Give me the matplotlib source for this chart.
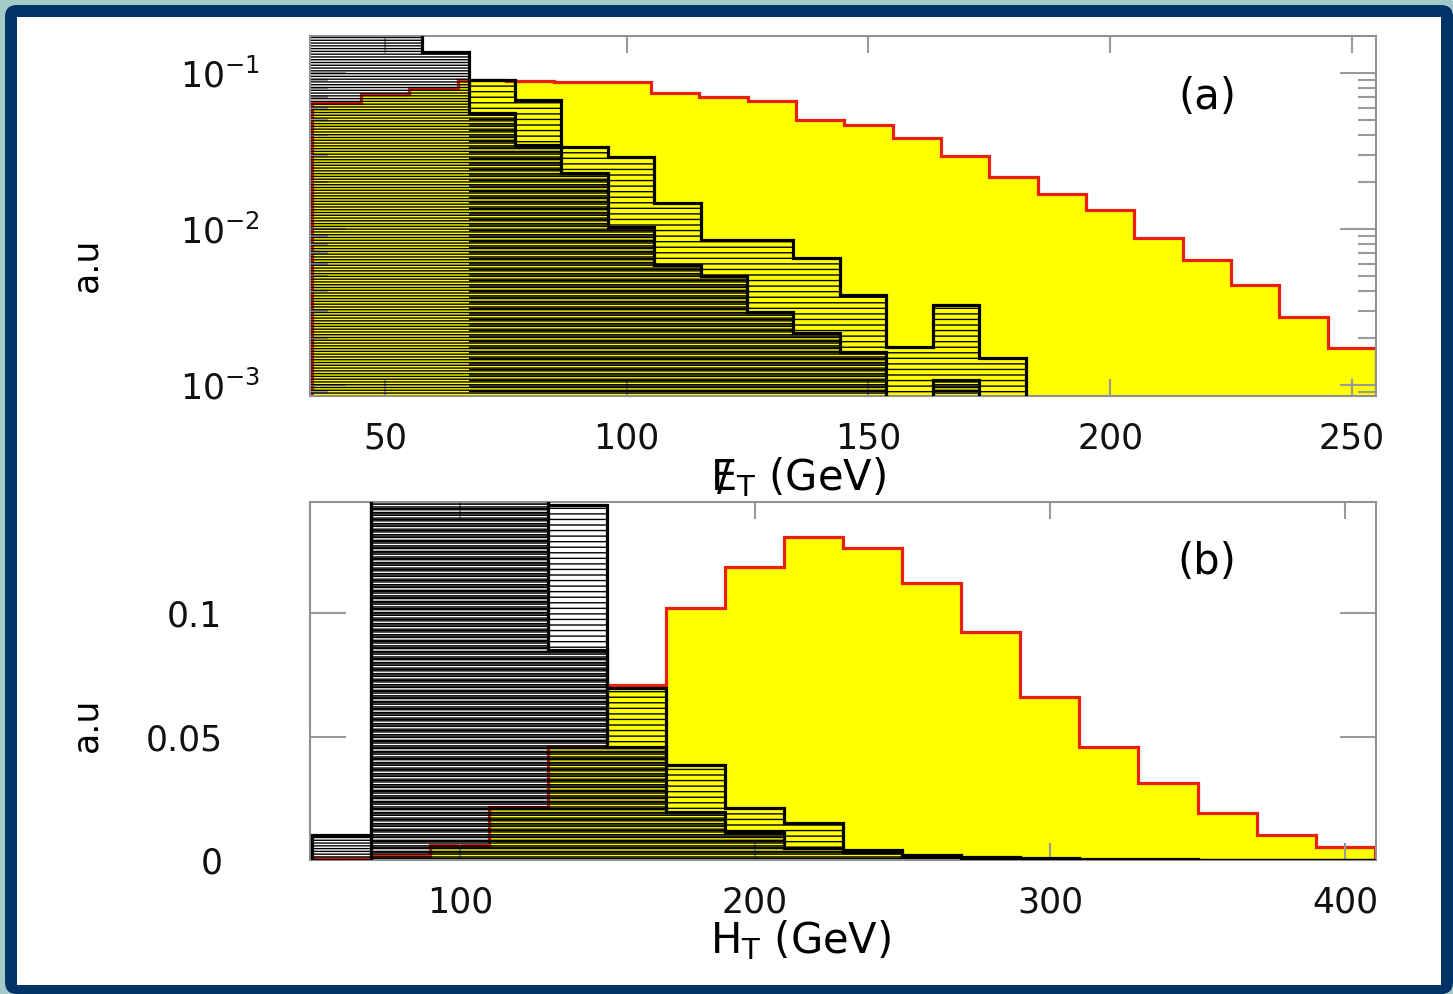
import numpy as np
import matplotlib
matplotlib.use('Agg')
import matplotlib.pyplot as plt
from matplotlib.patches import FancyBboxPatch, Rectangle

# panel (a): energia transversa perdida
met_bordes = [35, 45, 55, 65, 75, 85, 95, 105, 115, 125, 135, 145, 155, 165, 175,
              185, 195, 205, 215, 225, 235, 245, 255]
met_senal = [0.0642, 0.0733, 0.0801, 0.0902, 0.0888, 0.0876, 0.0876, 0.0745, 0.0702,
             0.0662, 0.0500, 0.0464, 0.0383, 0.0294, 0.0215, 0.0167, 0.0132, 0.00875,
             0.00632, 0.00438, 0.00273, 0.00173]
met_bordes_fondo = [28.9, 38.5, 48.1, 57.7, 67.3, 76.9, 86.5, 96.1, 105.7, 115.3, 124.9,
                    134.5, 144.1, 153.7, 163.3, 172.9, 182.5, 192.1]
met_fondo1 = [0.40, 0.33, 0.25, 0.136, 0.0555, 0.0346, 0.0229, 0.0103, 0.00588, 0.0050,
              0.00294, 0.00215, 0.00163, 0.0, 0.00108, 0.0, 0.0]
met_fondo2 = [0.0902, 0.0672, 0.0336, 0.0290, 0.0147, 0.00849, 0.00849, 0.00652,
              0.00378, 0.00175, 0.00326, 0.00149, 0.0]  # empieza en 67.3

# panel (b): HT
ht_bordes = [50, 70, 90, 110, 130, 150, 170, 190, 210, 230, 250, 270, 290, 310, 330,
             350, 370, 390, 410]
ht_senal = [0.001, 0.0015, 0.0061, 0.0215, 0.0457, 0.0709, 0.102, 0.1186, 0.1308,
            0.1263, 0.1121, 0.0923, 0.066, 0.0457, 0.0312, 0.019, 0.0101, 0.0053]
ht_fondo1 = [0.0101, 0.27, 0.31, 0.26, 0.085, 0.0457, 0.0194, 0.0113, 0.0049, 0.0032,
             0.0015, 0.0008, 0.0004, 0.0002, 0.0001, 0.0, 0.0, 0.0]
ht_fondo2 = [0.0, 0.24, 0.27, 0.22, 0.1437, 0.0696, 0.0385, 0.021, 0.015, 0.004, 0.002,
             0.0012, 0.0008, 0.0005, 0.0003, 0.0002, 0.0001, 0.0]

amarillo = '#ffff00'
rojo = '#e8200c'
gris = '#909090'

plt.rcParams['hatch.linewidth'] = 1.0
plt.rcParams['font.family'] = ['DejaVu Sans']

fig = plt.figure(figsize=(14.53, 9.94), dpi=100)
fig.patch.set_facecolor('#a3c9c9')
fig.add_artist(FancyBboxPatch((0.05, 0.0), 14.48, 9.89,
                              boxstyle='round,pad=0,rounding_size=0.12',
                              transform=fig.dpi_scale_trans, facecolor='#003366',
                              edgecolor='none', zorder=-2))
fig.add_artist(Rectangle((0.17, 0.09), 14.24, 9.68, transform=fig.dpi_scale_trans,
                         facecolor='white', edgecolor='none', zorder=-1))

ax1 = fig.add_axes([0.2134, 0.6016, 0.7336, 0.3622])
ax2 = fig.add_axes([0.2134, 0.1348, 0.7336, 0.3602])

#(a)
ax1.set_yscale('log', nonpositive='clip')
base = 1e-5
ax1.stairs(met_senal, met_bordes, fill=True, baseline=base, facecolor=amarillo, lw=0, zorder=1)
ax1.stairs(met_senal, met_bordes, baseline=base, color=rojo, lw=2.3, zorder=1.5)
ax1.stairs(met_fondo1, met_bordes_fondo, fill=True, baseline=base, facecolor='none',
           edgecolor='black', lw=0, hatch='------', zorder=2)
ax1.stairs(met_fondo2, met_bordes_fondo[4:], fill=True, baseline=base, facecolor='none',
           edgecolor='black', lw=0, hatch='---', zorder=2)
ax1.stairs(met_fondo1, met_bordes_fondo, baseline=base, color='black', lw=2.3, zorder=3)
ax1.stairs(met_fondo2, met_bordes_fondo[4:], baseline=None, color='black', lw=2.3, zorder=3)
ax1.set_xlim(34.5, 255)
ax1.set_ylim(10**-3.07, 10**-0.763)
ax1.set_xticks([50, 100, 150, 200, 250])

#(b)
ax2.stairs(ht_senal, ht_bordes, fill=True, baseline=0, facecolor=amarillo, lw=0, zorder=1)
ax2.stairs(ht_senal, ht_bordes, baseline=0, color=rojo, lw=2.3, zorder=1.5)
ax2.stairs(ht_fondo1, ht_bordes, fill=True, baseline=0, facecolor='none',
           edgecolor='black', lw=0, hatch='------', zorder=2)
ax2.stairs(ht_fondo2, ht_bordes, fill=True, baseline=0, facecolor='none',
           edgecolor='black', lw=0, hatch='---', zorder=2)
ax2.stairs(ht_fondo1, ht_bordes, baseline=0, color='black', lw=2.3, zorder=3)
ax2.stairs(ht_fondo2, ht_bordes, baseline=0, color='black', lw=2.3, zorder=3)
ax2.set_xlim(49.2, 410.5)
ax2.set_ylim(0, 0.145)
ax2.set_xticks([100, 200, 300, 400])
ax2.set_yticks([0, 0.05, 0.1])
ax2.set_yticklabels(['0', '0.05', '0.1'])

for ax, ypad in [(ax1, 36), (ax2, 63)]:
    for s in ax.spines.values():
        s.set_color(gris)
        s.set_linewidth(1.5)
    ax.tick_params(which='both', direction='in', top=True, right=True, color='#9a9a9a',
                   width=1.5, labelcolor='#111111')
    ax.tick_params(axis='x', which='major', length=12, pad=18, labelsize=25)
    ax.tick_params(axis='y', which='major', length=26, pad=ypad, labelsize=25)
    ax.tick_params(axis='y', which='minor', length=13)

ax1.set_xlabel(r'$/\!\!\!\mathrm{E}_{\mathrm{T}}$ (GeV)', fontsize=30, va='center')
ax1.xaxis.set_label_coords(0.46, -0.225)
ax2.set_xlabel(r'H$_\mathrm{T}$ (GeV)', fontsize=30, va='center')
ax2.xaxis.set_label_coords(0.46, -0.2235)
ax1.set_ylabel('a.u', fontsize=25, va='center', ha='center')
ax1.yaxis.set_label_coords(-0.21, 0.364)
ax2.set_ylabel('a.u', fontsize=25, va='center', ha='center')
ax2.yaxis.set_label_coords(-0.21, 0.377)

ax1.text(0.842, 0.831, '(a)', transform=ax1.transAxes, ha='center', va='center', fontsize=30)
ax2.text(0.841, 0.832, '(b)', transform=ax2.transAxes, ha='center', va='center', fontsize=30)

fig.savefig('out.png', dpi=100, facecolor=fig.get_facecolor())
